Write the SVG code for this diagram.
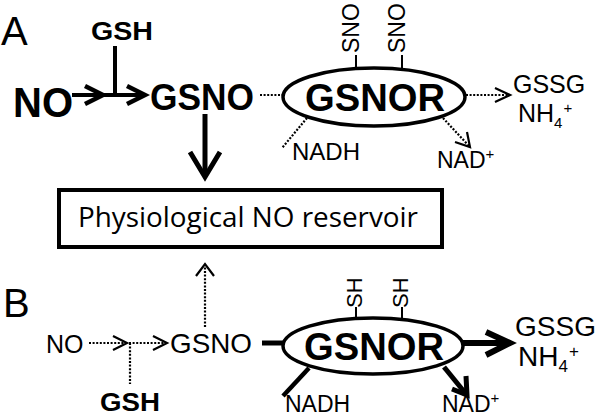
<svg xmlns="http://www.w3.org/2000/svg" width="600" height="417" viewBox="0 0 600 417">
<style>
text{font-family:"Liberation Sans",Arial,sans-serif;fill:#000}
.b{font-weight:bold}
.solid{fill:none;stroke:#000;stroke-linecap:butt;stroke-linejoin:miter}
.dot{fill:none;stroke:#000;stroke-width:2.2;stroke-dasharray:2 1.6}
.head{fill:none;stroke:#000;stroke-width:2.2}
.ell{fill:#fff;stroke:#000;stroke-width:3.5}
</style>
<rect width="600" height="417" fill="#fff"/>

<!-- Panel labels -->
<text x="1" y="45" font-size="40">A</text>
<text x="3" y="317" font-size="40">B</text>

<g id="connectors">
  <!-- Panel A -->
  <line class="solid" x1="72" y1="95" x2="146" y2="95" stroke-width="4"/>
  <polyline class="solid" points="85,86 103,95 85,104" stroke-width="4.5"/>
  <polyline class="solid" points="127,86 145,95 127,104" stroke-width="4.5"/>
  <line class="solid" x1="115" y1="46" x2="115" y2="95" stroke-width="4"/>
  <line class="dot" x1="260" y1="95" x2="283" y2="95"/>
  <line class="solid" x1="205" y1="114" x2="205" y2="176" stroke-width="5"/>
  <polyline class="solid" points="190,152 205,177 220,152" stroke-width="5"/>
  <line class="dot" x1="466" y1="95" x2="508" y2="95"/>
  <polyline class="head" points="495,88 510,95 495,102"/>
  <line class="dot" x1="307" y1="118" x2="282" y2="148"/>
  <line class="dot" x1="443" y1="118" x2="469" y2="146"/>
  <polyline class="head" points="467,132 470,147 455,142"/>
  <line class="solid" x1="356" y1="55" x2="356" y2="69" stroke-width="2"/>
  <line class="solid" x1="402" y1="55" x2="402" y2="69" stroke-width="2"/>

  <!-- Panel B -->
  <line class="dot" x1="89" y1="343" x2="125" y2="343"/>
  <polyline class="head" points="113,336 127,343 113,350"/>
  <line class="dot" x1="129" y1="343" x2="165" y2="343"/>
  <polyline class="head" points="153,336 167,343 153,350"/>
  <line class="dot" x1="130" y1="343" x2="130" y2="384"/>
  <line class="dot" x1="205" y1="327" x2="205" y2="265"/>
  <polyline class="head" points="196,276 205,264 214,276"/>
  <line class="solid" x1="262" y1="343" x2="284" y2="343" stroke-width="5"/>
  <line class="solid" x1="462" y1="343" x2="508" y2="343" stroke-width="6"/>
  <polyline class="solid" points="486,332 510,343 486,355" stroke-width="6"/>
  <line class="solid" x1="309" y1="368" x2="283" y2="396" stroke-width="4.5"/>
  <line class="solid" x1="444" y1="367" x2="466" y2="394" stroke-width="5"/>
  <polyline class="solid" points="452,389 467,395 466,376" stroke-width="5"/>
  <line class="solid" x1="356" y1="307" x2="356" y2="319" stroke-width="2"/>
  <line class="solid" x1="402" y1="307" x2="402" y2="319" stroke-width="2"/>
</g>

<g id="no-a"><text class="b" x="13" y="117" font-size="42" textLength="60" lengthAdjust="spacingAndGlyphs">NO</text></g>
<g id="gsh-a"><text class="b" x="91" y="40" font-size="26" textLength="62" lengthAdjust="spacingAndGlyphs">GSH</text></g>
<g id="gsno-a"><text class="b" x="150" y="110" font-size="36" textLength="104" lengthAdjust="spacingAndGlyphs">GSNO</text></g>

<g id="gsnor-a">
  <ellipse class="ell" cx="374" cy="97" rx="91" ry="29"/>
  <text class="b" x="375" y="111" font-size="38" text-anchor="middle" textLength="140" lengthAdjust="spacingAndGlyphs">GSNOR</text>
</g>
<g id="sno-1"><text transform="translate(359,53) rotate(-90)" font-size="23">SNO</text></g>
<g id="sno-2"><text transform="translate(405,53) rotate(-90)" font-size="23">SNO</text></g>

<g id="products-a">
  <text x="513" y="93" font-size="25">GSSG</text>
  <text x="518" y="122" font-size="25">NH<tspan font-size="15" dy="6">4</tspan><tspan font-size="15" dy="-15" dx="1">+</tspan></text>
</g>
<g id="nadh-a"><text x="292" y="160" font-size="24">NADH</text></g>
<g id="nad-a"><text x="437" y="168" font-size="23">NAD<tspan font-size="15" dy="-9">+</tspan></text></g>

<g id="reservoir">
  <rect x="59" y="190" width="383" height="57" fill="#fff" stroke="#000" stroke-width="4"/>
  <text x="78" y="227" font-size="27" textLength="340" lengthAdjust="spacingAndGlyphs" style="font-family:'Open Sans','Liberation Sans',sans-serif">Physiological NO reservoir</text>
</g>

<g id="no-b"><text x="46" y="353" font-size="25">NO</text></g>
<g id="gsh-b"><text class="b" x="100" y="411" font-size="26" textLength="60" lengthAdjust="spacingAndGlyphs">GSH</text></g>
<g id="gsno-b"><text x="170" y="353" font-size="28" textLength="82" lengthAdjust="spacingAndGlyphs">GSNO</text></g>

<g id="gsnor-b">
  <ellipse class="ell" cx="373" cy="346" rx="90" ry="28"/>
  <text class="b" x="374" y="360" font-size="38" text-anchor="middle" textLength="140" lengthAdjust="spacingAndGlyphs">GSNOR</text>
</g>
<g id="sh-1"><text transform="translate(362,308) rotate(-90)" font-size="22">SH</text></g>
<g id="sh-2"><text transform="translate(408,308) rotate(-90)" font-size="22">SH</text></g>

<g id="products-b">
  <text x="515" y="336" font-size="28">GSSG</text>
  <text x="518" y="366" font-size="28">NH<tspan font-size="17" dy="6">4</tspan><tspan font-size="17" dy="-15" dx="1">+</tspan></text>
</g>
<g id="nadh-b"><text x="285" y="412" font-size="23">NADH</text></g>
<g id="nad-b"><text x="442" y="412" font-size="23">NAD<tspan font-size="15" dy="-9">+</tspan></text></g>
</svg>
